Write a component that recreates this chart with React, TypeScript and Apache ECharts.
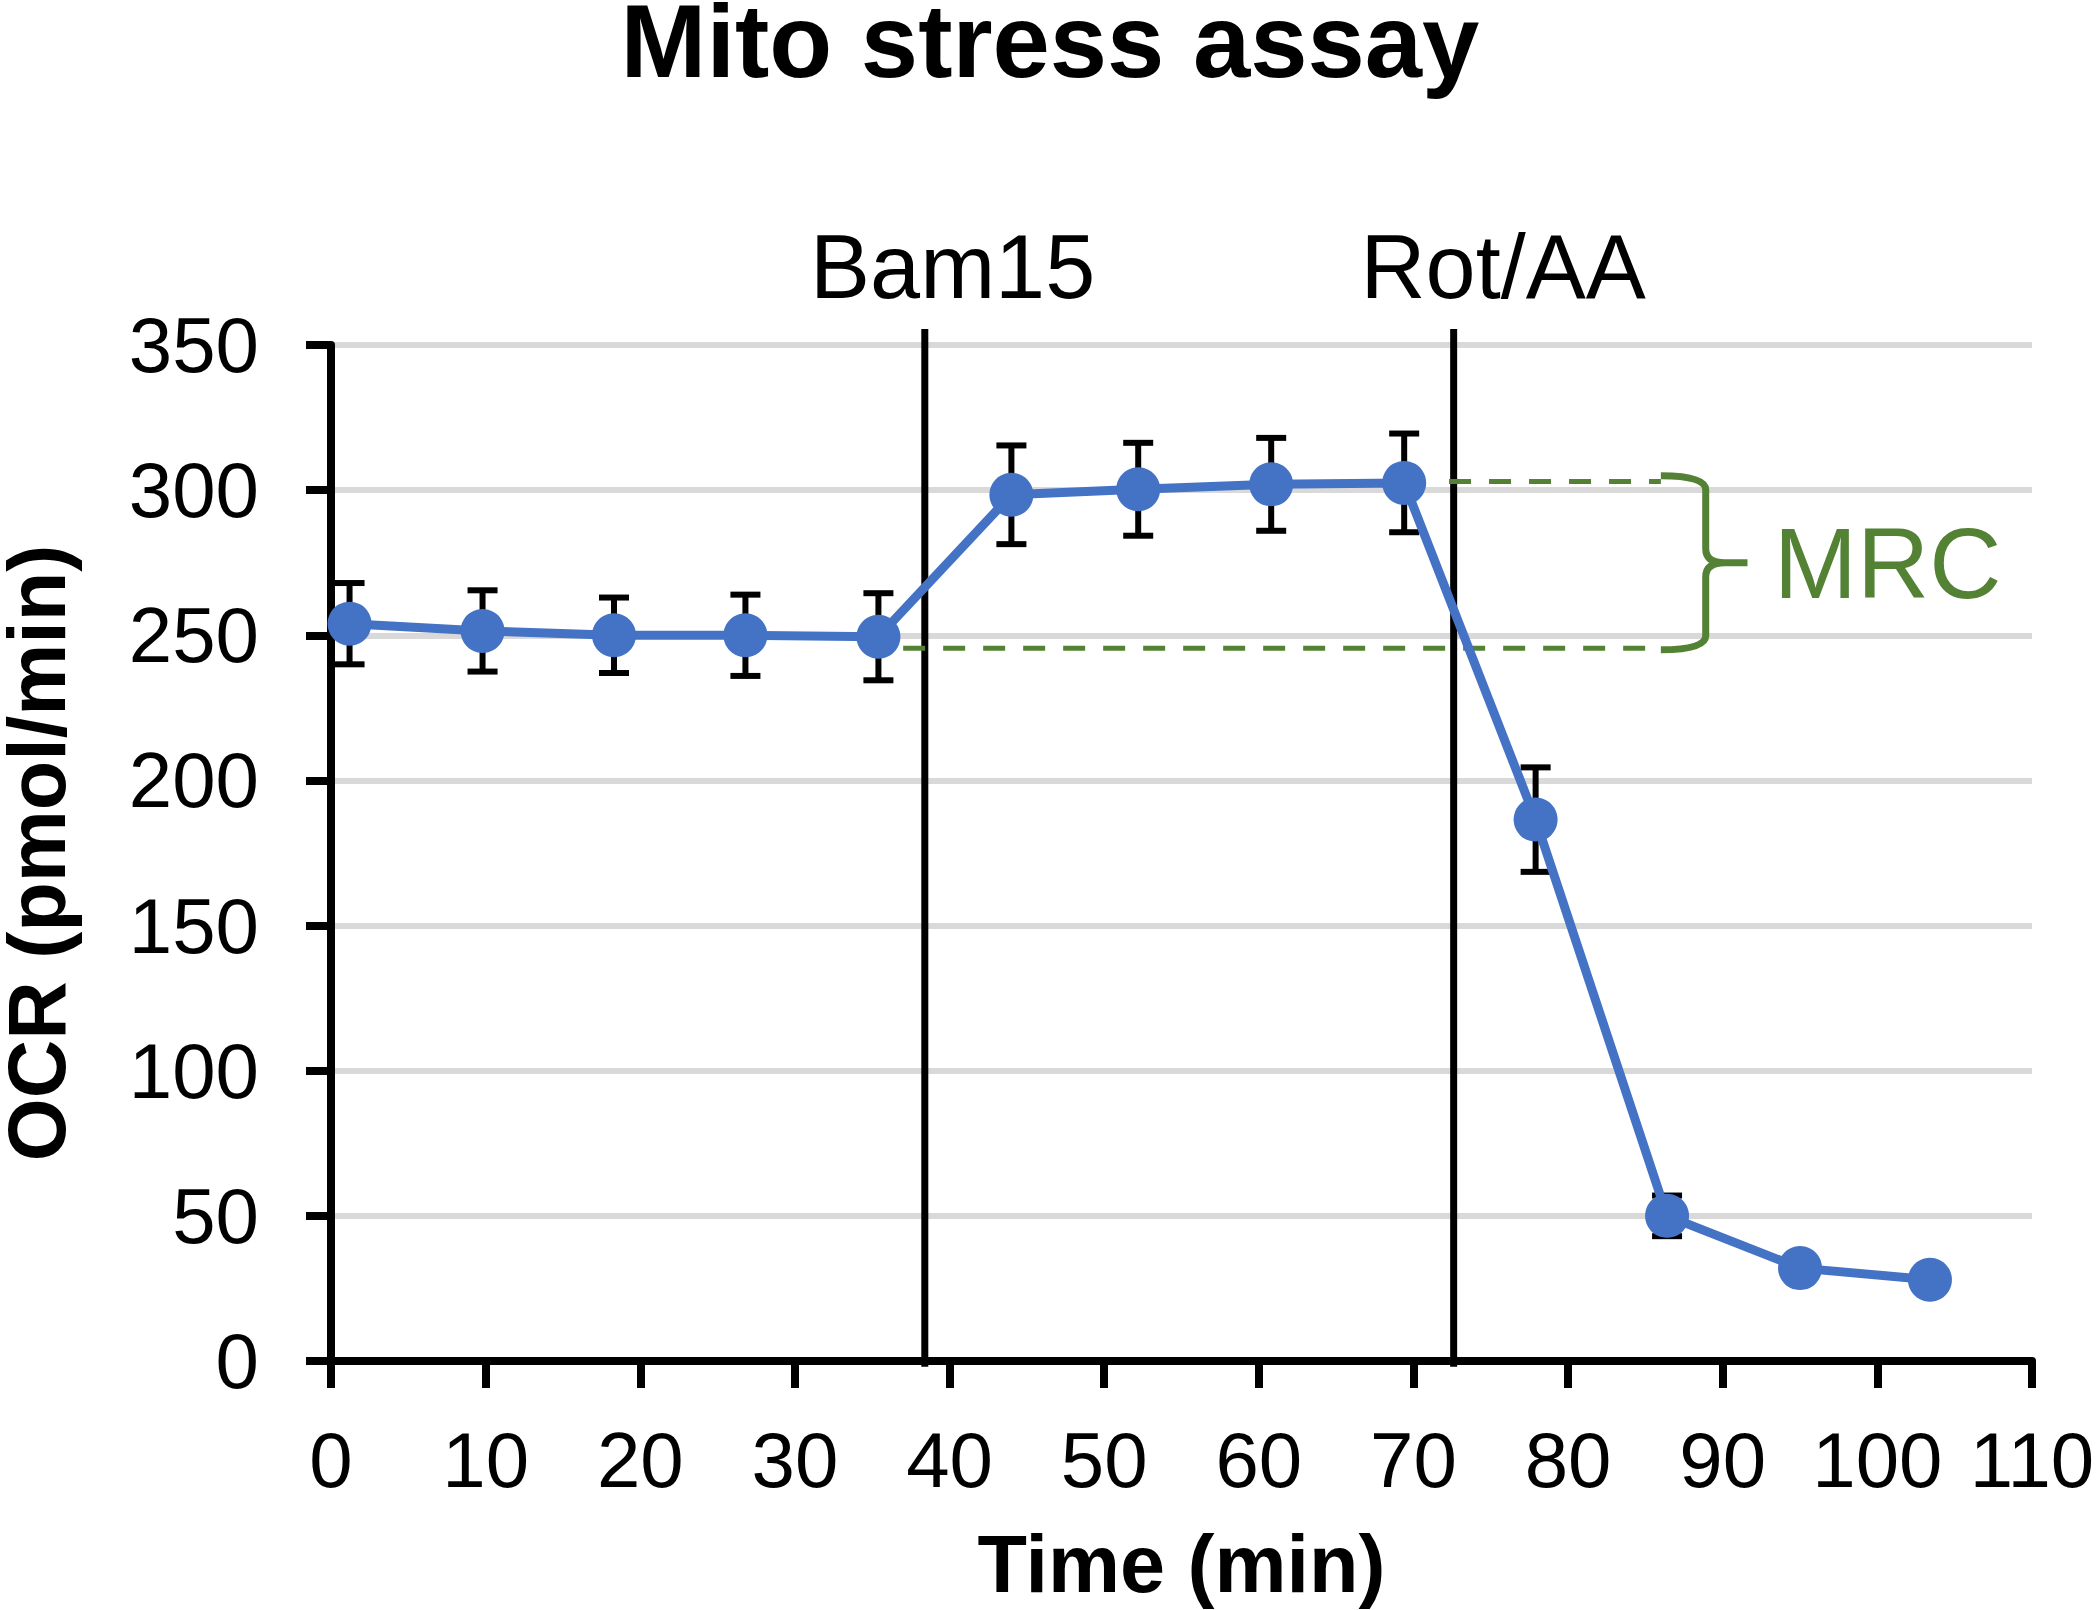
import React, { useEffect, useRef } from "react";
import * as echarts from "echarts";

// ---- data ----
const times = [1.2, 9.8, 18.3, 26.8, 35.4, 44.0, 52.2, 60.8, 69.4, 77.9, 86.4, 95.0, 103.4];
const ocr = [254, 251.5, 250, 250, 249.5, 298.4, 300.3, 302, 302.5, 186.5, 50, 32, 28];
const sem = [14, 14, 13, 14, 15, 17, 16, 16, 17, 18, 7, 3, 3];

const injectionTimes = [38.4, 72.6];
const injectionLabels = ["Bam15", "Rot/AA"];
const injectionLabelX = [40.2, 75.8];

// MRC annotation (data units)
const maximalLevel = 303;
const basalLevel = 245.5;
const maximalLineStart = 72.3;
const basalLineStart = 37.0;
const dashEnd = 86.0;
const braceX = [86.0, 88.9, 91.6];
const braceY = [305, 275, 245];
const mrcLabel = "MRC";
const mrcPos = [93.3, 275];

const xTicks = { min: 0, max: 110, interval: 10 };
const yTicks = { min: 0, max: 350, interval: 50 };

const FONT = "'Liberation Sans', Arial, Helvetica, sans-serif";
const BLUE = "#4472C4";
const GREEN = "#548235";

export default function App() {
  const ref = useRef<HTMLDivElement>(null);
  useEffect(() => {
    document.body.style.margin = "0";
    const chart = echarts.init(ref.current!, null, { renderer: "svg" });

    const errData = times.map((t, i) => [t, ocr[i], sem[i]]);

    const option: any = {
      animation: false,
      backgroundColor: "#ffffff",
      title: {
        text: "Mito stress assay",
        left: "center",
        top: 6,
        padding: 0,
        textStyle: { fontFamily: FONT, fontSize: 103, fontWeight: "bold", color: "#000", lineHeight: 70 },
      },
      grid: {
        left: 331,
        right: 68,
        top: 345,
        bottom: 249,
        containLabel: false,
        outerBoundsMode: "none",
      },
      xAxis: {
        type: "value",
        min: xTicks.min,
        max: xTicks.max,
        interval: xTicks.interval,
        name: "Time (min)",
        nameLocation: "middle",
        nameGap: 162,
        nameTextStyle: { fontFamily: FONT, fontSize: 81, fontWeight: "bold", color: "#000" },
        axisLine: { show: true, onZero: false, lineStyle: { color: "#000", width: 8 } },
        axisTick: { show: true, length: 27, lineStyle: { color: "#000", width: 8 } },
        axisLabel: { fontFamily: FONT, fontSize: 78, color: "#000", margin: 60 },
        splitLine: { show: false },
      },
      yAxis: {
        type: "value",
        min: yTicks.min,
        max: yTicks.max,
        interval: yTicks.interval,
        name: "OCR (pmol/min)",
        nameLocation: "middle",
        nameGap: 264,
        nameTextStyle: {
          fontFamily: FONT,
          fontSize: 81,
          fontWeight: "bold",
          color: "#000",
          lineHeight: 60,
        },
        axisLine: { show: true, onZero: false, lineStyle: { color: "#000", width: 8 } },
        axisTick: { show: true, length: 25, lineStyle: { color: "#000", width: 8 } },
        axisLabel: { fontFamily: FONT, fontSize: 78, color: "#000", margin: 72 },
        splitLine: { show: true, lineStyle: { color: "#d9d9d9", width: 6 } },
      },
      series: [
        // injection vertical lines + labels
        {
          type: "custom",
          clip: false,
          z: 3,
          data: injectionTimes.map((t, i) => [t, injectionLabelX[i]]),
          encode: { x: 0 },
          renderItem: (params: any, api: any) => {
            const x = api.value(0);
            const lx = api.value(1);
            const top = api.coord([x, 355.5]);
            const bot = api.coord([x, -2]);
            const lab = api.coord([lx, 376.7]);
            return {
              type: "group",
              children: [
                {
                  type: "line",
                  shape: { x1: top[0], y1: top[1], x2: bot[0], y2: bot[1] },
                  style: { stroke: "#000", lineWidth: 7 },
                },
                {
                  type: "text",
                  x: lab[0],
                  y: lab[1],
                  style: {
                    text: injectionLabels[params.dataIndex],
                    fontFamily: FONT,
                    fontSize: 90,
                    fill: "#000",
                    align: "center",
                    verticalAlign: "middle",
                  },
                },
              ],
            };
          },
        },
        // MRC dashed lines, brace and label
        {
          type: "custom",
          clip: false,
          z: 3,
          data: [[maximalLineStart, maximalLevel]],
          encode: { x: 0, y: 1 },
          renderItem: (params: any, api: any) => {
            const a1 = api.coord([maximalLineStart, maximalLevel]);
            const a2 = api.coord([dashEnd, maximalLevel]);
            const b1 = api.coord([basalLineStart, basalLevel]);
            const b2 = api.coord([dashEnd, basalLevel]);
            const p0 = api.coord([braceX[0], braceY[0]]);
            const pm = api.coord([braceX[1], braceY[1]]);
            const pt = api.coord([braceX[2], braceY[2]]);
            const x0 = p0[0], x1 = pm[0], xt = pt[0];
            const yT = p0[1], yM = pm[1], yB = pt[1];
            const r = 14;
            const xm = x1 + (xt - x1) * 0.45;
            const d =
              `M${x0},${yT} Q${x1},${yT} ${x1},${yT + r} L${x1},${yM - r} ` +
              `Q${x1},${yM} ${xm},${yM} L${xt},${yM} ` +
              `M${xm},${yM} Q${x1},${yM} ${x1},${yM + r} L${x1},${yB - r} Q${x1},${yB} ${x0},${yB}`;
            const lab = api.coord(mrcPos);
            const dash = { stroke: GREEN, lineWidth: 5, lineDash: [22, 18] };
            return {
              type: "group",
              children: [
                { type: "line", shape: { x1: a1[0], y1: a1[1], x2: a2[0], y2: a2[1] }, style: dash },
                { type: "line", shape: { x1: b1[0], y1: b1[1], x2: b2[0], y2: b2[1] }, style: dash },
                {
                  type: "path",
                  shape: { pathData: d },
                  style: { fill: "none", stroke: GREEN, lineWidth: 7 },
                },
                {
                  type: "text",
                  x: lab[0],
                  y: lab[1],
                  style: {
                    text: mrcLabel,
                    fontFamily: FONT,
                    fontSize: 100,
                    fill: GREEN,
                    align: "left",
                    verticalAlign: "middle",
                  },
                },
              ],
            };
          },
        },
        // error bars
        {
          type: "custom",
          clip: false,
          z: 4,
          data: errData,
          encode: { x: 0, y: 1 },
          renderItem: (params: any, api: any) => {
            const x = api.value(0);
            const y = api.value(1);
            const e = api.value(2);
            const top = api.coord([x, y + e]);
            const bot = api.coord([x, y - e]);
            const hw = 15;
            const st = { stroke: "#000", lineWidth: 6 };
            return {
              type: "group",
              children: [
                { type: "line", shape: { x1: top[0], y1: top[1], x2: bot[0], y2: bot[1] }, style: st },
                { type: "line", shape: { x1: top[0] - hw, y1: top[1], x2: top[0] + hw, y2: top[1] }, style: st },
                { type: "line", shape: { x1: bot[0] - hw, y1: bot[1], x2: bot[0] + hw, y2: bot[1] }, style: st },
              ],
            };
          },
        },
        // OCR line
        {
          type: "line",
          z: 5,
          data: times.map((t, i) => [t, ocr[i]]),
          symbol: "circle",
          symbolSize: 44,
          lineStyle: { color: BLUE, width: 9 },
          itemStyle: { color: BLUE },
        },
      ],
    };
    chart.setOption(option);
    return () => chart.dispose();
  }, []);
  return (
    <div
      ref={ref}
      style={{ position: "absolute", left: 0, top: 0, width: 2100, height: 1610 }}
    />
  );
}
